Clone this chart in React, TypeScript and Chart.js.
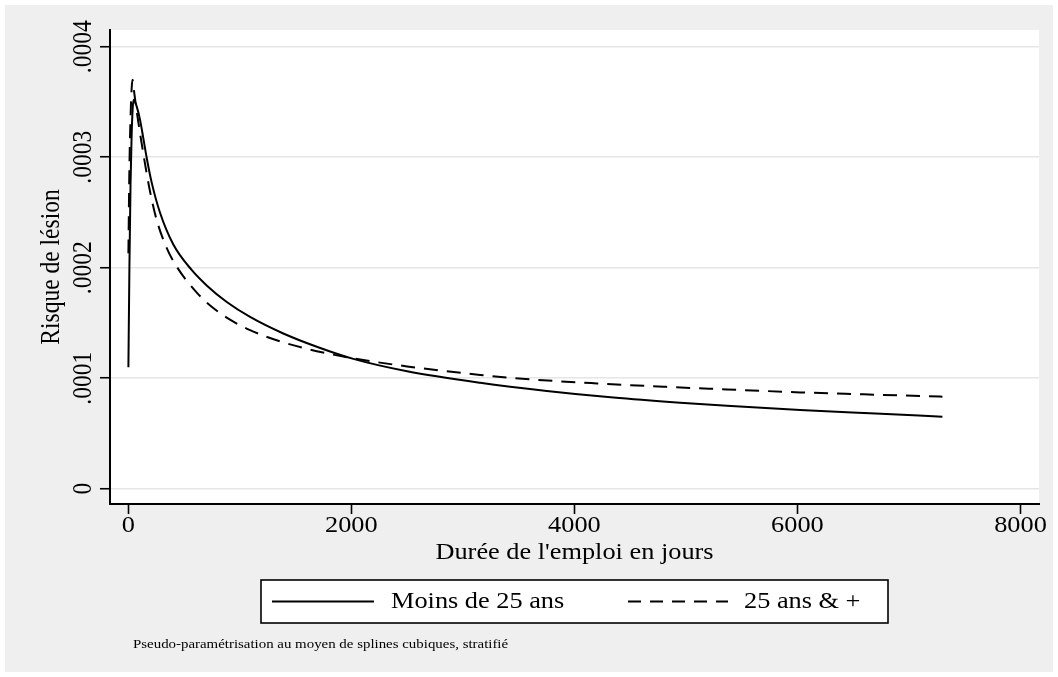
import React, { useEffect, useRef } from "react";
import { Chart, registerables } from "chart.js";

Chart.register(...registerables);

// ---- data ----
const xTickValues = [0, 2000, 4000, 6000, 8000];
const xTickLabels = ["0", "2000", "4000", "6000", "8000"];
const yTickValues = [0, 0.0001, 0.0002, 0.0003, 0.0004];
const yTickLabels = ["0", ".0001", ".0002", ".0003", ".0004"];

const daysMoins25 = [1, 10, 20, 30, 40, 48, 75, 105, 135, 164, 210, 284, 404, 568, 703, 883, 1092, 1390, 1690, 2018, 2500, 3155, 3753, 4350, 4949, 5368, 6025, 6700, 7300];
const riskMoins25 = [0.000110, 0.000200, 0.000275, 0.000320, 0.000345, 0.000352, 0.000346, 0.000334, 0.000317, 0.000300, 0.000277, 0.000250, 0.000221, 0.000198, 0.000184, 0.000169, 0.0001555, 0.0001405, 0.0001285, 0.0001175, 0.0001063, 0.0000959, 0.0000885, 0.0000825, 0.0000778, 0.000075, 0.0000712, 0.000068, 0.0000652];

const daysPlus25 = [1, 10, 20, 30, 38, 50, 75, 105, 140, 195, 255, 344, 434, 614, 762, 912, 1092, 1390, 1690, 2018, 2500, 3155, 3603, 4201, 4799, 5368, 6025, 6700, 7300];
const riskPlus25 = [0.000213, 0.000290, 0.000335, 0.000362, 0.000370, 0.000361, 0.000342, 0.000322, 0.000300, 0.000269, 0.000243, 0.000218, 0.000201, 0.0001775, 0.0001635, 0.000153, 0.0001435, 0.0001325, 0.0001245, 0.000118, 0.0001107, 0.000103, 0.000099, 0.0000953, 0.0000923, 0.0000899, 0.0000872, 0.0000851, 0.0000833];

const seriesNames = ["Moins de 25 ans", "25 ans & +"];
const xTitle = "Durée de l'emploi en jours";
const yTitle = "Risque de lésion";
const noteText = "Pseudo-paramétrisation au moyen de splines cubiques, stratifié";

// ---- styling ----
const W = 1058;
const H = 677;
const FONT = '"Liberation Serif", "Times New Roman", serif';
const SX = 1.12;
const GRAY = "#efefef";

function drawText(ctx: CanvasRenderingContext2D, str: string, x: number, y: number, size: number, align: CanvasTextAlign, rot = 0) {
  ctx.save();
  ctx.translate(x, y);
  ctx.scale(SX, 1);
  if (rot) ctx.rotate(rot);
  ctx.font = `${size}px ${FONT}`;
  ctx.textAlign = align;
  ctx.textBaseline = "middle";
  ctx.fillStyle = "#000";
  ctx.fillText(str, 0, 0);
  ctx.restore();
}

const stataPlugin = {
  id: "stataDecor",
  beforeDraw(chart: any) {
    const ctx = chart.ctx as CanvasRenderingContext2D;
    const a = chart.chartArea;
    ctx.save();
    ctx.fillStyle = "#fff";
    ctx.fillRect(0, 0, W, H);
    ctx.fillStyle = GRAY;
    ctx.fillRect(5, 5, W - 10, H - 10);
    ctx.fillStyle = "#fff";
    ctx.fillRect(a.left, a.top, a.right - a.left, a.bottom - a.top);
    ctx.restore();
  },
  afterDraw(chart: any) {
    const ctx = chart.ctx as CanvasRenderingContext2D;
    const a = chart.chartArea;
    const xs = chart.scales.x;
    const ys = chart.scales.y;
    const fs = 23.5;
    xTickValues.forEach((v, i) => {
      drawText(ctx, xTickLabels[i], xs.getPixelForValue(v), 526, fs, "center");
    });
    yTickValues.forEach((v, i) => {
      drawText(ctx, yTickLabels[i], 84, ys.getPixelForValue(v), fs, "center", -Math.PI / 2);
    });
    drawText(ctx, yTitle, 52, (a.top + a.bottom) / 2, fs, "center", -Math.PI / 2);
    drawText(ctx, xTitle, (a.left + a.right) / 2, 553, fs, "center");

    // legend
    ctx.save();
    ctx.fillStyle = "#fff";
    ctx.fillRect(261, 580, 627, 43);
    ctx.strokeStyle = "#000";
    ctx.lineWidth = 1.6;
    ctx.strokeRect(261, 580, 627, 43);
    const ly = 601.5;
    ctx.lineWidth = 2;
    ctx.beginPath();
    ctx.moveTo(272, ly);
    ctx.lineTo(374, ly);
    ctx.stroke();
    ctx.setLineDash([13, 9]);
    ctx.beginPath();
    ctx.moveTo(628, ly);
    ctx.lineTo(728, ly);
    ctx.stroke();
    ctx.restore();
    drawText(ctx, seriesNames[0], 391, ly, fs, "left");
    drawText(ctx, seriesNames[1], 744, ly, fs, "left");

    drawText(ctx, noteText, 133, 645, 13.3, "left");
  },
};

export default function App() {
  const ref = useRef<HTMLCanvasElement | null>(null);
  useEffect(() => {
    if (!ref.current) return;
    const chart = new Chart(ref.current, {
      type: "line",
      data: {
        datasets: [
          {
            label: seriesNames[0],
            data: daysMoins25.map((d, i) => ({ x: d, y: riskMoins25[i] })),
            borderColor: "#000",
            borderWidth: 2,
            pointRadius: 0,
            fill: false,
            cubicInterpolationMode: "monotone",
          },
          {
            label: seriesNames[1],
            data: daysPlus25.map((d, i) => ({ x: d, y: riskPlus25[i] })),
            borderColor: "#000",
            borderWidth: 2,
            borderDash: [14, 9],
            pointRadius: 0,
            fill: false,
            cubicInterpolationMode: "monotone",
          },
        ],
      },
      options: {
        animation: false,
        responsive: false,
        devicePixelRatio: 1,
        layout: { padding: { left: 60, right: 19, top: 30, bottom: 133 } },
        plugins: { legend: { display: false }, tooltip: { enabled: false } },
        scales: {
          x: {
            type: "linear",
            min: -164,
            max: 8166,
            afterBuildTicks: (s: any) => {
              s.ticks = xTickValues.map((v) => ({ value: v }));
            },
            afterFit: (s: any) => {
              s.height = 40;
            },
            ticks: { display: false },
            grid: {
              drawOnChartArea: false,
              drawTicks: true,
              tickLength: 10,
              tickColor: "#000",
              tickWidth: 1.6,
            },
            border: { display: true, color: "#000", width: 2 },
          },
          y: {
            type: "linear",
            min: -0.0000138,
            max: 0.0004151,
            afterBuildTicks: (s: any) => {
              s.ticks = yTickValues.map((v) => ({ value: v }));
            },
            afterFit: (s: any) => {
              s.width = 50;
            },
            ticks: { display: false },
            grid: {
              color: "#e6e6e6",
              lineWidth: 1.5,
              drawTicks: true,
              tickLength: 10,
              tickColor: "#000",
              tickWidth: 1.6,
            },
            border: { display: true, color: "#000", width: 2 },
          },
        },
      },
      plugins: [stataPlugin],
    } as any);
    return () => chart.destroy();
  }, []);
  return (
    <div style={{ position: "fixed", left: 0, top: 0, width: W, height: H }}>
      <canvas ref={ref} width={W} height={H} style={{ display: "block", width: W, height: H }} />
    </div>
  );
}
